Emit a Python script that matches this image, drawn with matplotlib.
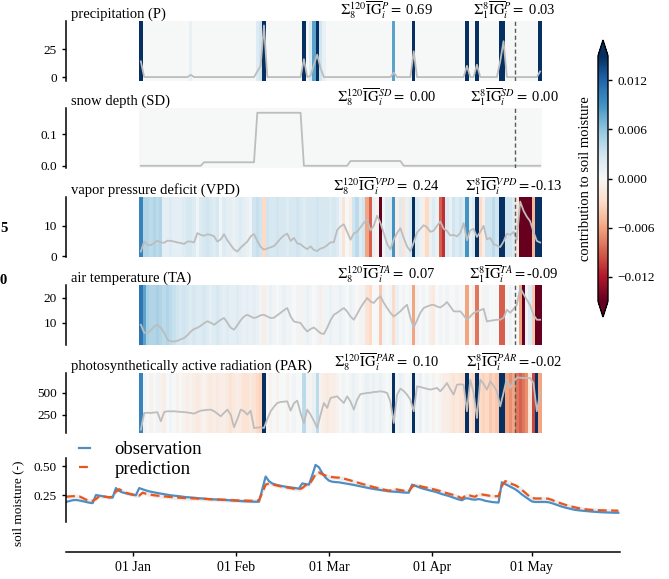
import numpy as np
import pandas as pd
import matplotlib

matplotlib.use("Agg")
import matplotlib.pyplot as plt
import matplotlib.dates as mdates
from matplotlib.colors import Normalize
from matplotlib.cm import ScalarMappable

plt.rcParams["font.family"] = ["Liberation Serif", "DejaVu Serif"]
plt.rcParams["mathtext.fontset"] = "stix"

# daily forcing over the 121-day lookback window (starts 2019-01-03)
precip = [
    14, 0, 0, 0, 0, 0, 0, 0, 0, 0,
    0, 0, 0, 0, 0, 2, 0, 0, 0, 0,
    0, 0, 0, 0, 0, 0, 0, 0, 0, 0,
    0, 0, 0, 0, 0, 5, 10, 46, 0, 0,
    0, 0, 0, 0, 0, 0, 0, 0, 0, 16,
    0, 1, 11, 20, 8, 0, 0, 0, 0, 0,
    0, 0, 0, 0, 0, 0, 0, 0, 0, 0,
    0, 0, 0, 0, 0, 0, 4, 0, 0, 0,
    0, 0, 23, 0, 0, 0, 0, 0, 0, 0,
    0, 0, 0, 0, 0, 0, 0, 0, 10, 0,
    0, 11, 0, 0, 0, 0, 0, 0, 14, 32,
    0, 0, 0, 0, 0, 0, 0, 0, 0, 0,
    5,
]
snow = (
    [0.0] * 19 + [0.011] * 16 + [0.167] * 14 + [0.0] * 14 + [0.015] * 16 + [0.0] * 42
)
vpd = [
    1.5, 4.8, 3.7, 3.6, 4.3, 5.1, 4.5, 4.4, 5.1, 5.0,
    4.8, 4.5, 4.3, 4.0, 4.8, 4.8, 4.5, 7.6, 7.0, 6.7,
    7.2, 7.0, 6.5, 4.8, 5.5, 7.2, 5.2, 3.7, 2.2, 1.5,
    2.8, 3.8, 4.8, 6.5, 7.3, 5.0, 3.0, 2.1, 2.5, 2.9,
    3.3, 4.5, 5.8, 6.8, 7.4, 5.0, 6.0, 4.2, 3.9, 3.0,
    2.3, 3.2, 2.0, 1.7, 2.5, 2.8, 3.6, 4.5, 4.6, 8.6,
    9.8, 10.5, 8.0, 5.4, 7.5, 8.0, 9.5, 11.0, 12.0, 8.5,
    10.0, 13.3, 11.0, 7.5, 4.0, 2.2, 5.5, 7.6, 9.2, 6.0,
    3.2, 1.6, 4.5, 7.8, 9.0, 10.2, 9.5, 8.0, 8.4, 10.0,
    11.4, 9.0, 8.3, 6.8, 7.0, 6.5, 7.6, 10.9, 5.2, 8.5,
    9.0, 6.3, 8.0, 10.0, 5.5, 6.0, 4.0, 3.5, 3.0, 4.8,
    7.4, 7.0, 8.0, 5.4, 18.0, 15.0, 13.0, 11.5, 8.0, 5.0,
    4.5,
]
temp = [
    9.2, 6.0, 6.0, 7.0, 8.5, 9.2, 8.0, 6.0, 3.2, 2.6,
    2.5, 2.8, 3.4, 3.9, 5.0, 6.5, 7.5, 8.0, 8.8, 9.8,
    10.6, 10.0, 9.2, 10.2, 11.2, 11.9, 10.0, 8.0, 7.2, 9.0,
    11.0, 12.5, 13.2, 12.5, 11.9, 12.3, 13.0, 13.2, 12.5, 11.9,
    12.0, 13.0, 14.0, 15.0, 15.9, 12.5, 10.5, 10.2, 9.9, 8.0,
    6.5, 7.5, 8.1, 7.0, 5.8, 5.5, 8.0, 11.0, 13.2, 14.0,
    15.0, 15.9, 14.5, 12.5, 11.2, 13.5, 16.0, 18.0, 19.9, 18.5,
    17.9, 19.5, 20.6, 18.0, 15.9, 14.0, 12.5, 13.5, 14.6, 16.0,
    17.2, 12.0, 8.1, 11.0, 14.0, 15.9, 16.5, 17.0, 17.2, 16.5,
    16.1, 17.0, 18.3, 16.5, 14.6, 14.5, 14.6, 13.0, 11.2, 12.5,
    13.9, 14.5, 15.0, 15.6, 10.5, 10.8, 11.0, 11.2, 11.2, 12.0,
    15.2, 14.0, 15.5, 17.2, 23.9, 21.5, 19.2, 17.0, 13.2, 11.2,
    11.2,
]
par = [
    80, 270, 272, 270, 275, 278, 175, 280, 289, 288,
    289, 285, 282, 280, 275, 270, 262, 280, 296, 300,
    305, 308, 290, 262, 232, 270, 308, 250, 107, 200,
    308, 290, 251, 296, 99, 103, 107, 99, 200, 289,
    340, 383, 395, 398, 402, 296, 380, 410, 270, 156,
    308, 251, 180, 99, 250, 383, 327, 440, 450, 459,
    420, 383, 459, 400, 308, 420, 485, 490, 497, 500,
    508, 510, 516, 510, 497, 400, 156, 478, 546, 520,
    478, 420, 289, 573, 565, 554, 545, 535, 545, 554,
    516, 560, 610, 540, 478, 591, 595, 591, 289, 648,
    500, 212, 648, 600, 535, 629, 580, 516, 345, 500,
    667, 554, 620, 674, 670, 667, 667, 667, 610, 289,
    497,
]

# integrated-gradient contributions to soil moisture, one per day
ig_precip = [
    0.05, 0, 0, 0, 0, 0, 0, 0, 0, 0,
    0, 0, 0, 0, 0, 0.001, 0, 0, 0, 0,
    0, 0, 0, 0, 0, 0, 0, 0, 0, 0,
    0, 0, 0, 0, 0, 0.002, 0.003, 0.122, 0, 0,
    0, 0, 0, 0, 0, 0, 0, 0, 0, 0.06,
    0, 0.002, 0.008, 0.09, 0.003, 0.001, 0, 0, 0, 0,
    0, 0, 0, 0, 0, 0, 0, 0, 0, 0,
    0, 0, 0, 0, 0, 0, 0.008, 0, 0, 0,
    0, 0, 0.08, 0, 0, 0, 0, 0, 0, 0,
    0, 0, 0, 0, 0, 0, 0, 0, 0.05, 0,
    0, 0.05, 0, 0, 0, 0, 0, 0, 0.06, 0.10,
    0, 0, 0, 0, 0, 0, 0, 0, 0, 0,
    0.03,
]
ig_snow = [0.0] * 121
ig_vpd = [
    0.010, 0.0045, 0.0045, 0.004, 0.0045, 0.004, 0.0045, 0.0015, 0.0015, 0.002,
    0.0015, 0.0015, 0.0015, 0.002, 0.0025, 0.0025, 0.002, 0.0005, 0.002, 0.0025,
    0.003, 0.0025, 0.002, 0.0025, 0.0005, 0.002, 0.0015, 0.0015, 0.001, 0.0015,
    0.002, 0.0015, 0.001, 0.0005, 0.003, 0.0035, 0.003, -0.003, 0.003, 0.0025,
    0.0025, 0.003, 0.0025, 0.0025, 0.002, 0.0025, 0.0025, 0.003, 0.0025, 0.002,
    0.0025, 0.0025, 0.0025, 0.003, 0.0025, 0.0025, 0.0025, 0.002, 0.0025, 0.002,
    0.0005, -0.002, 0.0, -0.001, 0.003, 0.004, 0.002, 0.003, -0.006, -0.009,
    0.001, -0.0005, -0.032, 0.0005, 0.002, 0.002, 0.009, -0.001, 0.002, -0.002,
    0.001, 0.002, 0.02, 0.002, 0.001, -0.001, -0.003, 0.001, 0.002, 0.001,
    -0.009, -0.011, 0.002, 0.001, 0.003, 0.002, 0.003, 0.002, 0.009, 0.001,
    0.002, 0.03, -0.003, -0.001, 0.003, 0.003, 0.004, 0.003, 0.02, 0.02,
    0.003, 0.003, 0.002, -0.002, -0.04, -0.04, -0.04, -0.04, -0.005, 0.02,
    0.02,
]
ig_temp = [
    0.011, 0.008, 0.005, 0.0045, 0.0045, 0.005, 0.0045, 0.004, 0.0045, 0.004,
    0.0035, 0.003, 0.0025, 0.003, 0.0025, 0.002, 0.0025, 0.002, 0.002, 0.0025,
    0.002, 0.0015, 0.002, 0.0025, 0.002, 0.0015, 0.002, 0.0015, 0.0015, 0.002,
    0.0015, 0.001, 0.0015, 0.001, 0.0015, 0.001, 0.0005, -0.001, 0.0005, 0.001,
    0.0005, 0.0, 0.0005, 0.001, 0.0005, 0.0005, 0.0, 0.0005, -0.0005, 0.0005,
    0.001, 0.0005, 0.0, 0.0005, -0.001, 0.0005, 0.0005, 0.001, 0.0005, 0.0005,
    0.001, 0.0005, 0.0, 0.001, 0.0005, 0.0, -0.0005, 0.0005, -0.002, -0.003,
    0.0, 0.0, -0.004, 0.0005, 0.0, 0.0005, -0.003, 0.001, 0.0, 0.0005,
    0.0, 0.0005, -0.006, 0.0005, 0.0, 0.0005, 0.0, -0.001, -0.0015, 0.0,
    0.0005, 0.0, 0.0005, 0.0, 0.0, 0.0005, 0.0, 0.0, -0.006, 0.0,
    -0.001, -0.008, 0.0, -0.0005, 0.0005, 0.0, 0.0, 0.0, -0.009, -0.009,
    0.0, 0.0005, 0.0, 0.0, -0.006, -0.03, 0.0005, 0.002, -0.004, -0.025,
    -0.03,
]
ig_par = [
    0.010, 0.0005, 0.0, -0.0005, 0.0, 0.0005, -0.0005, -0.001, 0.0, 0.0005,
    0.0, -0.0005, 0.0, -0.0005, -0.001, -0.0005, -0.001, -0.0015, -0.001, -0.0005,
    -0.001, -0.0015, -0.001, -0.0015, -0.001, -0.001, -0.0015, -0.002, -0.0015, -0.001,
    -0.0015, -0.002, -0.002, -0.0015, -0.002, -0.003, -0.0035, 0.025, 0.0, -0.0005,
    0.0, -0.0005, 0.0, 0.0, -0.0005, 0.0, 0.0005, 0.0, 0.0, 0.004,
    0.0005, -0.0005, 0.001, 0.004, -0.0005, -0.001, -0.0015, -0.001, -0.001, -0.0005,
    0.0, 0.0005, 0.0, 0.0005, 0.001, 0.0005, 0.0, 0.0005, 0.001, 0.0005,
    0.001, 0.0005, 0.001, 0.0005, 0.0, 0.0005, 0.024, 0.0005, 0.001, 0.0005,
    0.0, 0.0005, 0.024, 0.0005, 0.001, 0.0, 0.0005, 0.0, -0.0005, 0.0,
    -0.0005, -0.001, -0.001, -0.0015, -0.002, -0.0015, -0.002, -0.0025, 0.024, -0.002,
    -0.003, 0.024, -0.003, -0.0035, -0.003, -0.004, -0.0035, -0.004, 0.024, 0.024,
    -0.006, -0.007, -0.006, -0.008, -0.009, -0.008, -0.007, -0.002, -0.010, 0.03,
    -0.006,
]

# soil moisture, daily from 2018-12-12
sm_obs = [
    0.190, 0.198, 0.205, 0.207, 0.203, 0.197, 0.190, 0.184, 0.180, 0.250,
    0.245, 0.240, 0.235, 0.230, 0.228, 0.310, 0.285, 0.272, 0.265, 0.258,
    0.252, 0.248, 0.310, 0.300, 0.290, 0.282, 0.276, 0.270, 0.265, 0.260,
    0.255, 0.250, 0.246, 0.243, 0.240, 0.236, 0.232, 0.230, 0.228, 0.225,
    0.222, 0.220, 0.218, 0.215, 0.213, 0.212, 0.210, 0.208, 0.207, 0.205,
    0.203, 0.201, 0.199, 0.197, 0.195, 0.194, 0.193, 0.192, 0.192, 0.300,
    0.410, 0.370, 0.350, 0.340, 0.333, 0.327, 0.322, 0.318, 0.314, 0.310,
    0.305, 0.350, 0.345, 0.340, 0.420, 0.510, 0.490, 0.440, 0.400, 0.375,
    0.365, 0.362, 0.360, 0.355, 0.350, 0.345, 0.340, 0.334, 0.328, 0.322,
    0.316, 0.310, 0.305, 0.300, 0.296, 0.291, 0.287, 0.283, 0.280, 0.278,
    0.276, 0.273, 0.271, 0.270, 0.340, 0.330, 0.318, 0.308, 0.300, 0.292,
    0.285, 0.278, 0.268, 0.258, 0.250, 0.242, 0.232, 0.222, 0.212, 0.205,
    0.222, 0.220, 0.212, 0.210, 0.215, 0.210, 0.200, 0.195, 0.190, 0.187,
    0.185, 0.360, 0.345, 0.330, 0.315, 0.300, 0.280, 0.255, 0.235, 0.215,
    0.195, 0.190, 0.190, 0.190, 0.190, 0.188, 0.180, 0.170, 0.160, 0.150,
    0.142, 0.135, 0.128, 0.122, 0.118, 0.115, 0.112, 0.110, 0.107, 0.105,
    0.103, 0.101, 0.100, 0.099, 0.098, 0.097, 0.097,
]
sm_pred = [
    0.235, 0.238, 0.240, 0.240, 0.238, 0.225, 0.210, 0.200, 0.200, 0.215,
    0.240, 0.238, 0.234, 0.230, 0.235, 0.280, 0.300, 0.285, 0.270, 0.262,
    0.255, 0.248, 0.245, 0.270, 0.262, 0.256, 0.250, 0.246, 0.243, 0.240,
    0.237, 0.234, 0.231, 0.229, 0.227, 0.225, 0.223, 0.222, 0.221, 0.220,
    0.219, 0.218, 0.216, 0.214, 0.213, 0.212, 0.211, 0.210, 0.209, 0.207,
    0.205, 0.204, 0.203, 0.203, 0.202, 0.201, 0.200, 0.200, 0.205, 0.270,
    0.340, 0.350, 0.342, 0.335, 0.328, 0.322, 0.317, 0.312, 0.307, 0.303,
    0.300, 0.310, 0.335, 0.340, 0.380, 0.430, 0.445, 0.430, 0.418, 0.410,
    0.405, 0.402, 0.400, 0.395, 0.388, 0.380, 0.372, 0.363, 0.355, 0.346,
    0.338, 0.330, 0.322, 0.315, 0.308, 0.300, 0.294, 0.288, 0.292, 0.300,
    0.295, 0.290, 0.285, 0.282, 0.320, 0.340, 0.330, 0.322, 0.316, 0.310,
    0.303, 0.296, 0.288, 0.280, 0.270, 0.262, 0.254, 0.245, 0.235, 0.220,
    0.245, 0.250, 0.240, 0.235, 0.258, 0.255, 0.250, 0.245, 0.242, 0.240,
    0.240, 0.330, 0.370, 0.360, 0.345, 0.335, 0.318, 0.295, 0.270, 0.245,
    0.225, 0.220, 0.220, 0.220, 0.220, 0.218, 0.208, 0.196, 0.185, 0.175,
    0.166, 0.157, 0.150, 0.143, 0.137, 0.131, 0.127, 0.124, 0.122, 0.120,
    0.119, 0.118, 0.117, 0.116, 0.116, 0.115, 0.115,
]
pred_spread = 0.018

panels = [
    ("precipitation (P)", "P", precip, ig_precip, (-3.5, 50), [0, 25]),
    ("snow depth (SD)", "SD", snow, ig_snow, (-0.007, 0.182), [0.0, 0.1]),
    ("vapor pressure deficit (VPD)", "VPD", vpd, ig_vpd, (-0.3, 19.5), [0, 10]),
    ("air temperature (TA)", "TA", temp, ig_temp, (1.1, 25.1), [10, 20]),
    ("photosynthetically active radiation (PAR)", "PAR", par, ig_par, (42, 724), [250, 500]),
]
panel_tops = [21, 108, 197, 285, 373]
recent = 8

edges = mdates.date2num(pd.date_range("2019-01-03", periods=len(precip) + 1, freq="D"))
centers = edges[:-1] + 0.5
split = edges[len(precip) - recent]
sm_days = mdates.date2num(pd.date_range("2018-12-12", periods=len(sm_obs), freq="D"))

norm = Normalize(vmin=-0.015, vmax=0.015)
cmap = plt.get_cmap("RdBu")

W_PX, H_PX = 669, 579
fig = plt.figure(figsize=(W_PX / 100, H_PX / 100), dpi=100)


def box(top, bottom, left=66, right=620):
    return [left / W_PX, 1 - bottom / H_PX, (right - left) / W_PX, (bottom - top) / H_PX]


ax_sm = fig.add_axes(box(458, 522))

for (title, sym, vals, ig, ylim, yticks), top in zip(panels, panel_tops):
    ax = fig.add_axes(box(top, top + 60), sharex=ax_sm)
    ig = np.asarray(ig)
    ax.pcolormesh(edges, list(ylim), ig[np.newaxis, :], cmap=cmap, norm=norm,
                  shading="flat", rasterized=True)
    ax.plot(centers, vals, color="#bdbdbd", lw=1.3)
    ax.axvline(split, color="0.35", ls=(0, (3, 2)), lw=1.0)
    ax.set_ylim(ylim)
    ax.set_yticks(yticks)
    for s in ("top", "right", "bottom"):
        ax.spines[s].set_visible(False)
    ax.spines["left"].set_linewidth(1.1)
    ax.tick_params(axis="x", bottom=False, labelbottom=False)
    ax.tick_params(axis="y", labelsize=9.5, length=3, width=1)
    ax.text(0.009, 1.0, title, transform=ax.transAxes, fontsize=10.5,
            ha="left", va="bottom")
    old = ig[: len(ig) - recent].sum()
    new = ig[len(ig) - recent:].sum()
    ax.text(0.578, 1.0,
            r"$\Sigma_{8}^{120}\overline{\mathrm{IG}}_i^{" + sym + "}=$" + f"{old: .2f}",
            transform=ax.transAxes, fontsize=10.5, ha="center", va="bottom")
    ax.text(0.809, 1.0,
            r"$\Sigma_{1}^{8}\overline{\mathrm{IG}}_i^{" + sym + "}=$" + f"{new: .2f}",
            transform=ax.transAxes, fontsize=10.5, ha="center", va="bottom")

# observed vs predicted soil moisture
ax_sm.fill_between(sm_days, np.asarray(sm_pred) - pred_spread,
                   np.asarray(sm_pred) + pred_spread, color="0.88", alpha=0.6, lw=0)
ax_sm.plot(sm_days, sm_obs, color="#4e8ec4", lw=1.6, label="observation")
ax_sm.plot(sm_days, sm_pred, color="#e8561e", lw=1.6, ls=(0, (4, 2)), label="prediction")
ax_sm.set_xlim(sm_days[0], sm_days[-1] + 0.5)
ax_sm.set_ylim(0.017, 0.57)
ax_sm.set_yticks([0.25, 0.50])
ax_sm.xaxis.set_major_locator(mdates.MonthLocator())
ax_sm.xaxis.set_major_formatter(mdates.DateFormatter("%d %b"))
ax_sm.spines["top"].set_visible(False)
ax_sm.spines["right"].set_visible(False)
ax_sm.spines["bottom"].set_position(("outward", 21.6))
for s in ("left", "bottom"):
    ax_sm.spines[s].set_linewidth(1.1)
ax_sm.tick_params(axis="y", labelsize=9.5, length=3, width=1)
ax_sm.tick_params(axis="x", labelsize=10, length=3, width=1)
ax_sm.set_ylabel("soil moisture (-)", fontsize=9.5)
ax_sm.yaxis.set_label_coords(-0.076, 0.3)
ax_sm.legend(loc="upper left", bbox_to_anchor=(79 / W_PX, 1 - 441 / H_PX),
             bbox_transform=fig.transFigure, frameon=False, fontsize=13.5,
             handlelength=0.6, handletextpad=1.3, labelspacing=0.12, borderpad=0,
             borderaxespad=0)

# shared colour scale
cax = fig.add_axes([598 / W_PX, 1 - 317 / H_PX, 10 / W_PX, 277 / H_PX])
cb = fig.colorbar(ScalarMappable(norm=norm, cmap=cmap), cax=cax, extend="both",
                  extendfrac=0.065, ticks=[-0.012, -0.006, 0.0, 0.006, 0.012])
cb.ax.yaxis.set_major_formatter(
    plt.FuncFormatter(lambda v, p: f"{abs(v):.3f}" if abs(v) < 1e-9 else f"{v:.3f}".replace("-", "\u2212")))
cb.ax.tick_params(labelsize=9.5, length=3, width=1)
cb.outline.set_linewidth(1.0)
cb.set_label("contribution to soil moisture", fontsize=10.5, labelpad=4)
cb.ax.yaxis.set_label_position("left")

fig.text(0.0, 1 - 228 / H_PX, "5", fontsize=10.5, fontweight="bold", ha="left", va="center")
fig.text(0.0, 1 - 281 / H_PX, "0", fontsize=10.5, fontweight="bold", ha="left", va="center")

fig.savefig("out.png", dpi=100)
